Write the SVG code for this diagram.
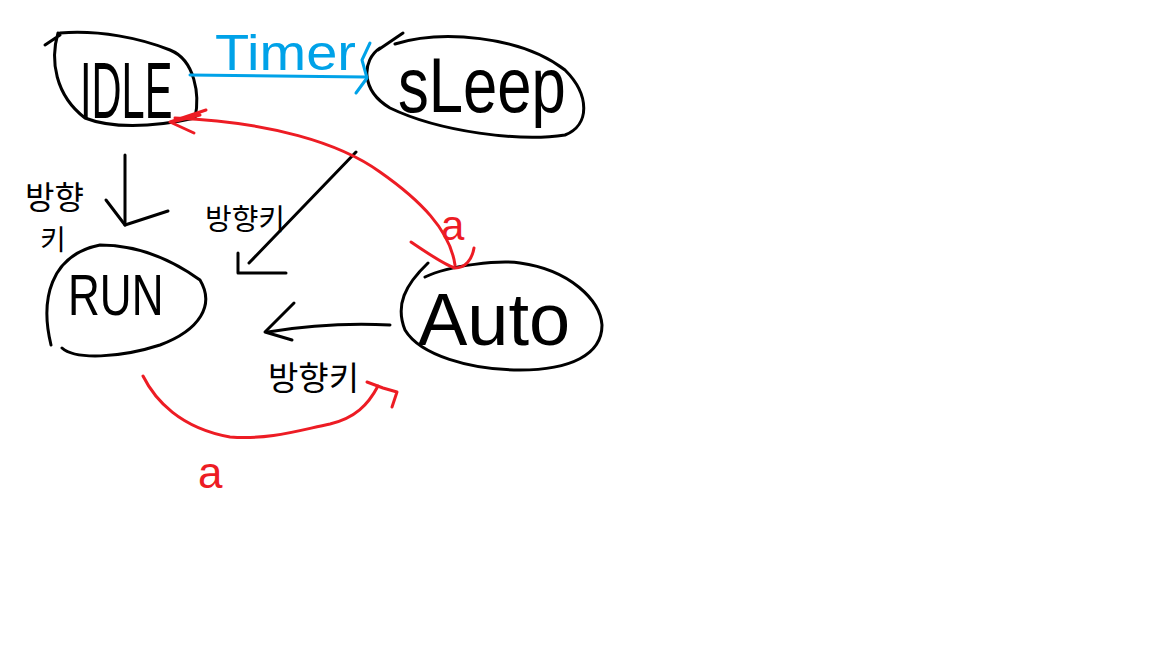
<svg xmlns="http://www.w3.org/2000/svg" width="1152" height="648" viewBox="0 0 1152 648">
  <style>
    .k { fill: none; stroke: #000; stroke-width: 3; stroke-linecap: round; stroke-linejoin: round; }
    .r { fill: none; stroke: #ed1c24; stroke-width: 3; stroke-linecap: round; stroke-linejoin: round; }
    .b { fill: none; stroke: #00a2e8; stroke-width: 3; stroke-linecap: round; stroke-linejoin: round; }
    .t { font-family: "Liberation Sans", "Noto Sans CJK KR", sans-serif; fill: #000; }
    .ko { font-family: "Noto Sans CJK KR", "Liberation Sans", sans-serif; fill: #000; }
    .ra { font-family: "Liberation Sans", sans-serif; fill: #ed1c24; }
  </style>
  <rect width="1152" height="648" fill="#fff"/>

  <g id="node-idle">
    <path class="k" d="M58,33 C50,60 55,95 85,118 C110,128 150,128 195,118 C200,95 195,60 170,50 C140,38 100,30 60,33 M45,45 L60,35"/>
    <text class="t" transform="translate(80,118) scale(0.52,1)" font-size="80">IDLE</text>
  </g>

  <g id="node-sleep">
    <path class="k" d="M395,44 C440,30 520,35 565,70 C590,95 590,125 565,135 C520,142 440,132 390,108 C360,90 362,60 380,48 M403,33 L378,50"/>
    <text class="t" transform="translate(398,112) scale(0.79,1)" font-size="78">sLeep</text>
  </g>

  <g id="node-run">
    <path class="k" d="M51,345 C40,300 50,255 100,245 C140,245 175,262 200,280 C215,305 200,330 160,345 C120,358 75,360 62,348"/>
    <text class="t" transform="translate(68,315) scale(0.76,1)" font-size="58">RUN</text>
  </g>

  <g id="node-auto">
    <path class="k" d="M425,277 C450,265 500,260 520,263 C570,270 600,300 602,325 C602,355 570,370 520,370 C470,370 420,355 405,330 C395,305 405,285 428,263"/>
    <text class="t" x="418" y="345" font-size="74">Auto</text>
  </g>

  <g id="connectors">
    <!-- IDLE -> sLeep (Timer) -->
    <path class="b" d="M190,75 L365,77"/>
    <path class="b" d="M370,43 L362,60 L367,78 L356,93"/>
    <text transform="translate(215,70) scale(1.12,1)" font-family="Liberation Sans, sans-serif" font-size="50" fill="#00a2e8">Timer</text>

    <!-- IDLE -> RUN -->
    <path class="k" d="M125,155 L125,225"/>
    <path class="k" d="M106,200 L125,225 L168,211"/>
    <text class="ko" x="25" y="209" font-size="32">방향</text>
    <text class="ko" x="40" y="250" font-size="28">키</text>

    <!-- sLeep -> RUN -->
    <path class="k" d="M356,152 L249,263"/>
    <path class="k" d="M238,253 L238,273 L286,273"/>
    <text class="ko" x="205" y="230" font-size="29">방향키</text>

    <!-- Auto -> RUN -->
    <path class="k" d="M390,325 C350,323 310,325 268,332"/>
    <path class="k" d="M294,303 L265,332 L292,340"/>
    <text class="ko" x="268" y="390" font-size="33">방향키</text>

    <!-- Auto <-> IDLE (a) -->
    <path class="r" d="M455,265 C450,230 420,200 380,172 C340,143 270,122 175,118"/>
    <path class="r" stroke-width="4.5" d="M206,110 L170,122 L194,133 M200,115 L172,122"/>
    <path class="r" d="M411,242 C430,255 445,265 455,268 C465,268 472,260 474,248"/>
    <text class="ra" x="441" y="240" font-size="42">a</text>

    <!-- RUN -> Auto (a) -->
    <path class="r" d="M143,376 C155,400 180,428 230,437 C270,440 300,430 330,424 C355,418 368,405 378,386"/>
    <path class="r" d="M367,382 L383,388 L397,392 L392,407"/>
    <text class="ra" x="198" y="488" font-size="44">a</text>
  </g>
</svg>
